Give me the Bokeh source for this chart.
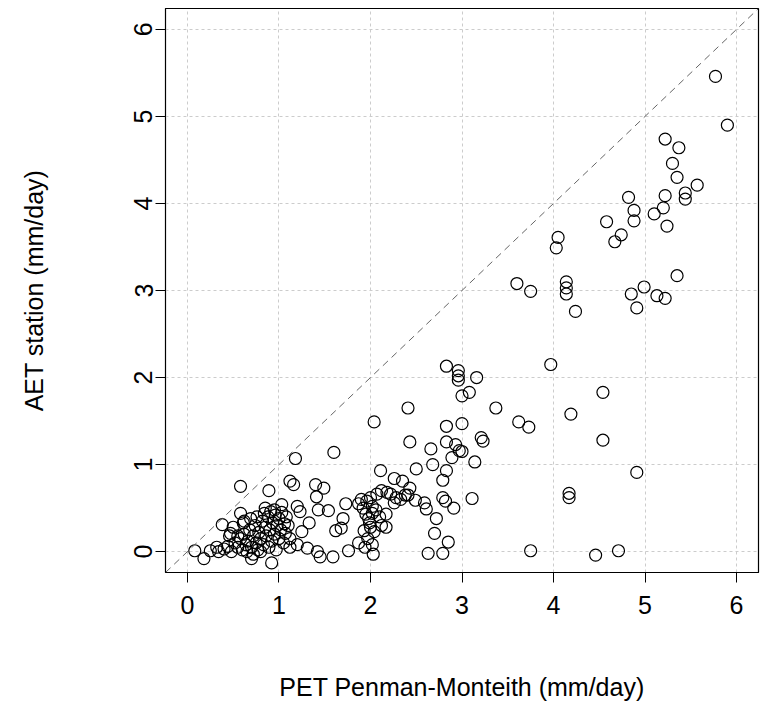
from bokeh.plotting import figure
from bokeh.models import Range1d, FixedTicker, Slope
from bokeh.embed import file_html
from bokeh.resources import INLINE

# PET Penman-Monteith (mm/day) and AET station (mm/day)
pet = [
    5.77, 5.90, 5.22, 5.37, 5.30, 5.35, 5.57, 5.44, 5.44, 5.22, 4.82, 5.20, 4.88, 4.88, 5.10,
    5.24, 4.58, 4.74, 4.67, 4.05, 4.03, 5.35, 4.99, 4.85, 5.13, 5.22, 4.91, 3.60, 3.75, 4.14,
    4.14, 4.14, 4.24, 3.97, 4.54, 4.19, 4.54, 4.91, 4.17, 4.17, 4.46, 4.71, 3.75, 3.62, 3.73,
    3.16, 2.83, 2.96, 2.96, 2.96, 3.00, 3.08, 3.37, 2.41, 2.04, 2.83, 3.00, 2.43, 2.66, 2.83,
    2.93, 2.97, 3.00, 3.21, 3.23, 3.14, 2.89, 2.68, 2.83, 2.79, 2.50, 3.11, 2.79, 2.82, 2.91,
    2.72, 2.70, 2.85, 2.63, 2.79, 2.43, 2.41, 2.49, 2.59, 2.61, 2.17, 2.17,
    2.11, 2.26, 2.35, 2.26, 2.02, 1.87, 1.94, 2.03, 1.76, 1.59, 1.62, 1.70, 1.73, 1.54, 1.43,
    1.41, 1.40, 1.49, 1.60, 1.18, 1.12, 1.16, 1.68,
    2.00, 2.07, 2.12, 2.18, 2.22, 2.28, 2.33, 2.38, 1.87, 1.92, 1.95, 1.98, 1.99, 2.00, 1.93,
    2.04, 2.10, 2.12, 1.90, 1.96, 2.02, 2.06, 2.02, 1.97,
    1.20, 1.23, 1.33, 1.25, 1.20, 1.31, 1.42, 1.45, 1.07, 1.12, 1.03,
    0.58, 0.89, 0.58, 0.61, 0.38, 0.47, 0.08, 0.18, 0.25, 0.85, 0.70, 0.92, 0.46, 0.34,
    0.52, 0.55, 0.58, 0.60, 0.62, 0.64, 0.66, 0.68, 0.70, 0.72, 0.74, 0.75, 0.77, 0.78, 0.80,
    0.82, 0.83, 0.85, 0.86, 0.88, 0.89, 0.90, 0.92, 0.93, 0.95, 0.96, 0.97, 0.98, 1.00, 1.00,
    1.02, 1.03, 1.05, 1.06, 1.08, 0.65, 0.72, 0.80, 0.55, 0.62, 0.69, 0.76, 0.84, 0.91, 0.95,
    1.10, 1.12, 0.44, 0.40, 0.32, 0.48, 0.50,
]
aet = [
    5.46, 4.90, 4.74, 4.64, 4.46, 4.30, 4.21, 4.12, 4.05, 4.09, 4.07, 3.95, 3.92, 3.80, 3.88,
    3.74, 3.79, 3.64, 3.56, 3.61, 3.49, 3.17, 3.04, 2.96, 2.94, 2.91, 2.80, 3.08, 2.99, 3.10,
    3.03, 2.96, 2.76, 2.15, 1.83, 1.58, 1.28, 0.91, 0.67, 0.62, -0.04, 0.01, 0.01, 1.49, 1.43,
    2.00, 2.13, 2.08, 2.02, 1.97, 1.79, 1.83, 1.65, 1.65, 1.49, 1.44, 1.47, 1.26, 1.18, 1.26,
    1.23, 1.16, 1.15, 1.31, 1.27, 1.03, 1.08, 1.00, 0.93, 0.82, 0.95, 0.61, 0.62, 0.58, 0.50,
    0.38, 0.21, 0.11, -0.02, -0.02, 0.73, 0.65, 0.59, 0.56, 0.49, 0.43, 0.28,
    0.93, 0.84, 0.81, 0.56, 0.44, 0.10, 0.05, -0.03, 0.01, -0.06, 0.24, 0.38, 0.55, 0.47, 0.48,
    0.63, 0.77, 0.73, 1.14, 1.07, 0.81, 0.77, 0.27,
    0.62, 0.66, 0.70, 0.68, 0.66, 0.62, 0.60, 0.65, 0.55, 0.50, 0.43, 0.38, 0.33, 0.28, 0.24,
    0.23, 0.40, 0.30, 0.60, 0.58, 0.52, 0.48, 0.08, 0.15,
    0.52, 0.46, 0.33, 0.23, 0.08, 0.04, 0.00, -0.06, 0.21, 0.15, 0.54,
    0.75, 0.70, 0.44, 0.33, 0.31, 0.21, 0.01, -0.08, 0.01, 0.50, -0.08, -0.13, 0.18, 0.00,
    0.10, 0.05, 0.15, 0.02, 0.20, 0.08, 0.12, 0.25, 0.05, 0.18, 0.30, 0.10, 0.02, 0.22, 0.15,
    0.35, 0.08, 0.28, 0.18, 0.40, 0.05, 0.25, 0.12, 0.33, 0.20, 0.42, 0.02, 0.30, 0.15, 0.38,
    0.25, 0.45, 0.10, 0.32, 0.40, 0.00, -0.03, 0.00, 0.18, 0.35, 0.38, 0.40, 0.44, 0.46, 0.48,
    0.30, 0.05, 0.06, 0.03, 0.05, 0.00, 0.28,
]
ticks = [0, 1, 2, 3, 4, 5, 6]
x_title = "PET Penman-Monteith (mm/day)"
y_title = "AET station (mm/day)"

pad = 0.04 * (max(ticks) - min(ticks))
FONT = "Liberation Sans"
FS = "25px"

p = figure(width=761, height=727, output_backend="svg", toolbar_location=None,
           x_range=Range1d(min(ticks) - pad, max(ticks) + pad),
           y_range=Range1d(min(ticks) - pad, max(ticks) + pad),
           min_border_left=165, min_border_right=3, min_border_top=8, min_border_bottom=155)

p.background_fill_color = "white"
p.border_fill_color = "white"
p.outline_line_color = "black"
p.outline_line_width = 1.2

for g in (p.xgrid, p.ygrid):
    g.ticker = FixedTicker(ticks=ticks)
    g.grid_line_color = "#cccccc"
    g.grid_line_dash = "3 3"
    g.grid_line_width = 1

p.add_layout(Slope(gradient=1, y_intercept=0, line_color="#666666",
                   line_dash="7 5", line_width=1))

p.scatter(pet, aet, marker="circle", size=12, fill_color=None,
          line_color="black", line_width=1.2)

for ax in (p.xaxis[0], p.yaxis[0]):
    ax.ticker = FixedTicker(ticks=ticks)
    ax.minor_tick_line_color = None
    ax.major_tick_in = 0
    ax.major_tick_out = 10
    ax.major_tick_line_color = "black"
    ax.axis_line_color = "black"
    ax.major_label_text_font = FONT
    ax.major_label_text_font_size = FS
    ax.major_label_text_color = "black"
    ax.axis_label_text_font = FONT
    ax.axis_label_text_font_size = FS
    ax.axis_label_text_font_style = "normal"
    ax.axis_label_text_color = "black"

p.xaxis[0].axis_label = x_title
p.yaxis[0].axis_label = y_title
p.xaxis[0].major_label_standoff = 13
p.xaxis[0].axis_label_standoff = 56
p.yaxis[0].major_label_orientation = "vertical"
p.yaxis[0].major_label_standoff = 3
p.yaxis[0].axis_label_standoff = 84

open("out.html", "w").write(file_html(p, INLINE))
